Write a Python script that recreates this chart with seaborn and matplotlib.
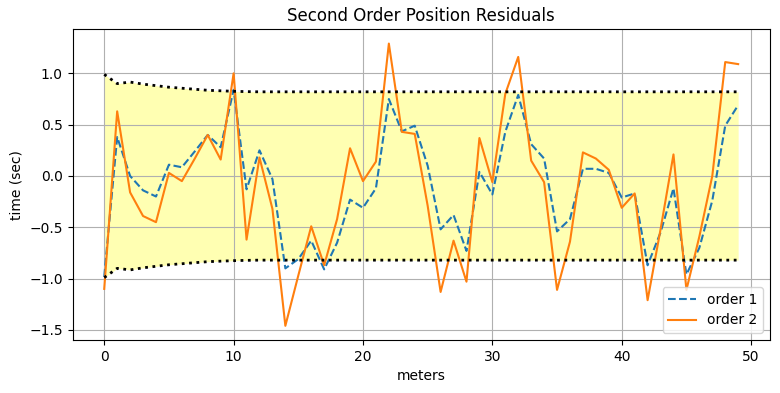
import numpy as np
import pandas as pd
import matplotlib
matplotlib.use("Agg")
import matplotlib.pyplot as plt
import seaborn as sns

# distance in meters
meters = list(range(50))

order1 = [-0.98, 0.38, 0.00, -0.14, -0.20, 0.11, 0.085, 0.24, 0.40, 0.28,
          0.84, -0.13, 0.25, -0.03, -0.90, -0.81, -0.63, -0.91, -0.65, -0.23,
          -0.31, -0.12, 0.75, 0.435, 0.49, 0.10, -0.52, -0.38, -0.73, 0.04,
          -0.18, 0.43, 0.79, 0.31, 0.17, -0.54, -0.42, 0.07, 0.07, 0.03,
          -0.21, -0.17, -0.87, -0.55, -0.12, -0.96, -0.70, -0.24, 0.49, 0.69]

order2 = [-1.10, 0.63, -0.16, -0.39, -0.45, 0.03, -0.05, 0.17, 0.40, 0.16,
          1.00, -0.62, 0.18, -0.32, -1.46, -0.97, -0.49, -0.87, -0.42, 0.27,
          -0.05, 0.14, 1.29, 0.43, 0.41, -0.29, -1.13, -0.63, -1.03, 0.37,
          -0.06, 0.80, 1.16, 0.15, -0.06, -1.11, -0.64, 0.23, 0.17, 0.06,
          -0.31, -0.17, -1.21, -0.52, 0.21, -1.11, -0.59, 0.00, 1.11, 1.09]

# +/- bound on the residuals
bound = [0.99, 0.90, 0.915, 0.895, 0.88, 0.865, 0.855, 0.845, 0.835, 0.83,
         0.825, 0.822, 0.82, 0.82, 0.82, 0.82, 0.82, 0.82, 0.82, 0.82,
         0.82, 0.82, 0.82, 0.82, 0.82, 0.82, 0.82, 0.82, 0.82, 0.82,
         0.82, 0.82, 0.82, 0.82, 0.82, 0.82, 0.82, 0.82, 0.82, 0.82,
         0.82, 0.82, 0.82, 0.82, 0.82, 0.82, 0.82, 0.82, 0.82, 0.82]

df = pd.DataFrame({"meters": meters, "order 1": order1, "order 2": order2,
                   "upper": bound})
df["lower"] = -df["upper"]

fig, ax = plt.subplots(figsize=(7.8, 3.93), dpi=100)

ax.fill_between(df["meters"], df["lower"], df["upper"], color="yellow", alpha=0.3, lw=0)
sns.lineplot(data=df, x="meters", y="order 1", ax=ax, color="C0", linestyle="--", label="order 1")
sns.lineplot(data=df, x="meters", y="order 2", ax=ax, color="C1", label="order 2")
sns.lineplot(data=df, x="meters", y="upper", ax=ax, color="black", linestyle=":", lw=2)
sns.lineplot(data=df, x="meters", y="lower", ax=ax, color="black", linestyle=":", lw=2)

ax.set_title("Second Order Position Residuals")
ax.set_xlabel("meters")
ax.set_ylabel("time (sec)")
ax.grid(True)
ax.legend(loc="lower right")

fig.subplots_adjust(left=0.093, right=0.987, top=0.925, bottom=0.135)
fig.savefig("out.png")
